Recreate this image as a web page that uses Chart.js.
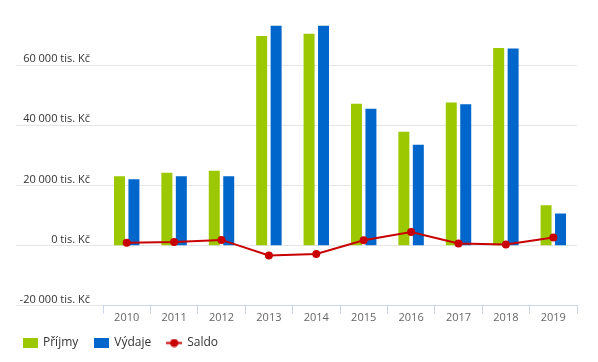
<!DOCTYPE html>
<html>
<head>
<meta charset="utf-8">
<script src="https://cdn.jsdelivr.net/npm/chart.js@4"></script>
<style>
  html, body { margin: 0; padding: 0; background: #fff; }
  #wrap { width: 598px; height: 362px; }
</style>
</head>
<body>
<div id="wrap"><canvas id="chart"></canvas></div>
<script>
// data (tis. Kč)
const years = ['2010', '2011', '2012', '2013', '2014', '2015', '2016', '2017', '2018', '2019'];
const prijmy = [23100, 24200, 24900, 69700, 70400, 47200, 37900, 47600, 65700, 13400];
const vydaje = [22100, 23100, 23100, 73100, 73100, 45500, 33500, 47000, 65500, 10700];
const saldo = [1000, 1200, 1900, -3300, -2800, 1800, 4500, 700, 400, 2700];
const yTicks = [-20000, 0, 20000, 40000, 60000];

const GREEN = '#9bc800';
const BLUE = '#0066cc';
const RED = '#c80000';

// legend symbols
function boxIcon(color) {
    const c = document.createElement('canvas');
    c.width = 15; c.height = 10;
    const ctx = c.getContext('2d');
    ctx.fillStyle = color;
    ctx.fillRect(0, 0, 15, 10);
    return c;
}
function lineIcon(color) {
    const c = document.createElement('canvas');
    c.width = 16; c.height = 9;
    const ctx = c.getContext('2d');
    ctx.fillStyle = color;
    ctx.fillRect(0, 3.5, 16, 2);
    ctx.beginPath();
    ctx.arc(8, 4.5, 4, 0, Math.PI * 2);
    ctx.fill();
    return c;
}
const icons = [boxIcon(GREEN), boxIcon(BLUE), lineIcon(RED)];

function fmt(v) {
    return String(v).replace(/\B(?=(\d{3})+(?!\d))/g, ' ') + ' tis. Kč';
}

new Chart(document.getElementById('chart'), {
    data: {
        labels: years,
        datasets: [
            {
                type: 'line',
                label: 'Saldo',
                data: saldo,
                borderColor: RED,
                backgroundColor: RED,
                borderWidth: 2,
                pointRadius: 4,
                pointBackgroundColor: RED,
                pointBorderWidth: 0,
                tension: 0,
                order: 0
            },
            {
                type: 'bar',
                label: 'Příjmy',
                data: prijmy,
                backgroundColor: GREEN,
                categoryPercentage: 0.61,
                barPercentage: 0.76,
                order: 1
            },
            {
                type: 'bar',
                label: 'Výdaje',
                data: vydaje,
                backgroundColor: BLUE,
                categoryPercentage: 0.61,
                barPercentage: 0.76,
                order: 1
            }
        ]
    },
    options: {
        responsive: true,
        maintainAspectRatio: false,
        animation: false,
        layout: { padding: { left: 7, right: 21, top: 11, bottom: 3 } },
        plugins: {
            tooltip: { enabled: false },
            legend: {
                position: 'bottom',
                align: 'start',
                labels: {
                    usePointStyle: true,
                    pointStyleWidth: 14,
                    padding: 16,
                    color: '#333333',
                    font: { family: 'Open Sans', size: 12 },
                    generateLabels: chart => {
                        const order = [1, 2, 0];
                        return order.map((i, k) => ({
                            text: chart.data.datasets[i].label,
                            datasetIndex: i,
                            pointStyle: icons[k],
                            fillStyle: 'transparent',
                            strokeStyle: 'transparent',
                            lineWidth: 0,
                            fontColor: '#333333'
                        }));
                    }
                }
            }
        },
        scales: {
            x: {
                offset: true,
                grid: {
                    offset: true,
                    drawOnChartArea: false,
                    color: '#ccd6eb',
                    tickLength: 8
                },
                border: { color: '#ccd6eb' },
                ticks: {
                    color: '#666666',
                    padding: -3,
                    font: { family: 'Open Sans', size: 11 }
                }
            },
            y: {
                min: -20000,
                max: 78000,
                afterBuildTicks: s => {
                    s.ticks = yTicks.map(v => ({ value: v }));
                },
                afterFit: s => { s.width = 96; },
                grid: {
                    color: '#e6e6e6',
                    tickLength: 87,
                    drawTicks: true
                },
                border: { display: false },
                ticks: {
                    padding: -74,
                    labelOffset: -6,
                    color: '#333333',
                    font: { family: 'Open Sans', size: 11 },
                    callback: v => fmt(v)
                }
            }
        }
    }
});
</script>
</body>
</html>
